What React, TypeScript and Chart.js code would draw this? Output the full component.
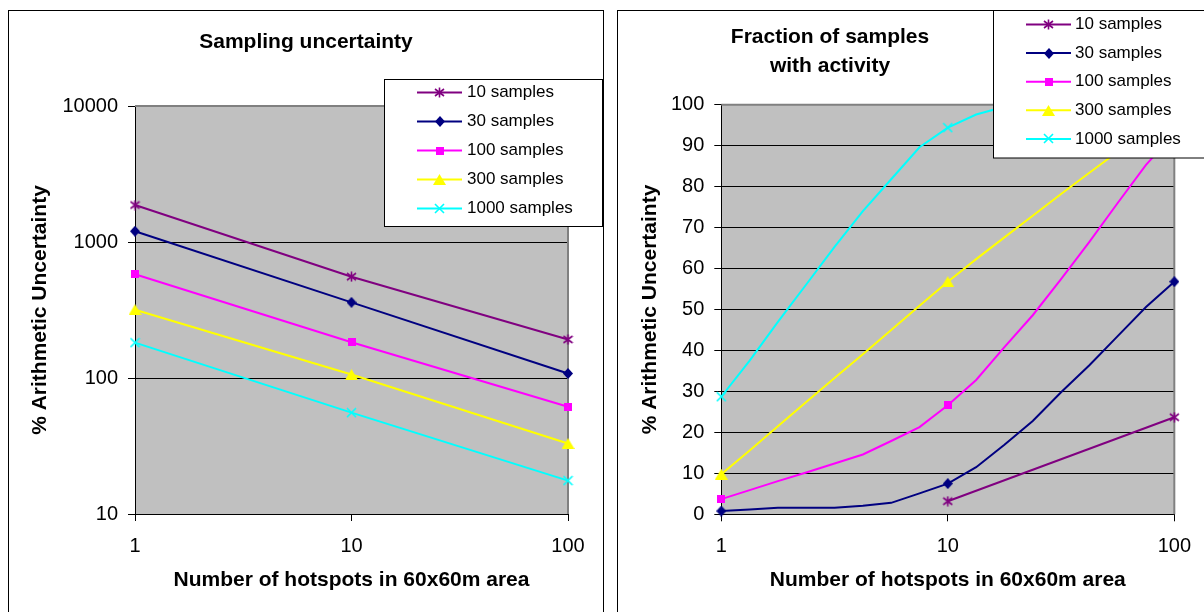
import React, { useEffect, useRef } from 'react';
import { Chart, registerables } from 'chart.js';

Chart.register(...registerables);

const FONT = '"Liberation Sans", Arial, Helvetica, sans-serif';

// ---- shared series info ----
const seriesLabels = ['10 samples', '30 samples', '100 samples', '300 samples', '1000 samples'];
const seriesColors = ['#800080', '#000080', '#FF00FF', '#FFFF00', '#00FFFF'];
const seriesMarkers = ['asterisk', 'diamond', 'square', 'triangle', 'cross'];
const hotspotTicks = [1, 10, 100];

// ---- left chart: Sampling uncertainty ----
const uncX = [1, 10, 100];
const unc10 = [1870, 556, 192];
const unc30 = [1200, 360, 108];
const unc100 = [580, 183, 61.5];
const unc300 = [318, 106, 33];
const unc1000 = [182, 55.6, 17.6];
const uncYTicks = [10, 100, 1000, 10000];

// ---- right chart: Fraction of samples with activity ----
const fracX = [1, 1.334, 1.778, 2.371, 3.162, 4.217, 5.623, 7.499, 10, 13.34, 17.78, 23.71, 31.62, 42.17, 56.23, 74.99, 100];
const frac10 = [null, null, null, null, null, null, null, null, 3.2, null, null, null, null, null, null, null, 23.7];
const frac30 = [0.8, 1.2, 1.6, 1.6, 1.6, 2.1, 2.8, 5.1, 7.5, 11.5, 17, 22.8, 29.8, 36.4, 43.5, 50.6, 56.8];
const frac100 = [3.7, 5.9, 8.1, 10.2, 12.4, 14.6, 17.9, 21.3, 26.6, 32.8, 40.8, 48.6, 57.4, 66.5, 76, 85.3, 93];
const frac300 = [9.8, 15.6, 21.5, 27.4, 33.3, 39.1, 45, 50.9, 56.8, 62.3, 67.6, 72.9, 78.2, 83.4, 88.5, 93.5, 98.3];
const frac1000 = [28.7, 37.5, 47, 56.1, 65.3, 74, 81.8, 89.6, 94.4, 97.6, 99.5, 100, 100, 100, 100, 100, 100];
const fracMarkerAt = [1, 10, 100];

function makeMarker(kind: string, color: string): HTMLCanvasElement {
  const c = document.createElement('canvas');
  const sizes: Record<string, number[]> = {
    asterisk: [11, 11], diamond: [10, 11], square: [8, 8], triangle: [13, 11], cross: [11, 11],
  };
  const [w, h] = sizes[kind];
  c.width = w;
  c.height = h;
  const ctx = c.getContext('2d')!;
  ctx.strokeStyle = color;
  ctx.fillStyle = color;
  ctx.lineWidth = 1.6;
  ctx.beginPath();
  if (kind === 'asterisk') {
    ctx.moveTo(5.5, 0.5); ctx.lineTo(5.5, 10.5);
    ctx.moveTo(1, 2); ctx.lineTo(10, 9);
    ctx.moveTo(10, 2); ctx.lineTo(1, 9);
    ctx.stroke();
  } else if (kind === 'diamond') {
    ctx.moveTo(5, 0); ctx.lineTo(10, 5.5); ctx.lineTo(5, 11); ctx.lineTo(0, 5.5); ctx.closePath();
    ctx.fill();
  } else if (kind === 'square') {
    ctx.fillRect(0, 0, 8, 8);
  } else if (kind === 'triangle') {
    ctx.moveTo(6.5, 0); ctx.lineTo(13, 11); ctx.lineTo(0, 11); ctx.closePath();
    ctx.fill();
  } else {
    ctx.moveTo(1, 1); ctx.lineTo(10, 10);
    ctx.moveTo(10, 1); ctx.lineTo(1, 10);
    ctx.stroke();
  }
  return c;
}

type Decor = {
  frame: number[];
  title: string[];
  titleX: number;
  titleY: number;
  titleStep: number;
  legendBox: number[];
  lx1: number;
  lx2: number;
  tx: number;
  ly0: number;
  ldy: number;
};

function decorPlugin(d: Decor) {
  return {
    id: 'decor',
    beforeDraw(chart: any) {
      const { ctx, chartArea: a } = chart;
      ctx.save();
      ctx.fillStyle = '#fff';
      ctx.fillRect(0, 0, chart.width, chart.height);
      ctx.strokeStyle = '#000';
      ctx.lineWidth = 1;
      ctx.strokeRect(d.frame[0], d.frame[1], d.frame[2], d.frame[3]);
      ctx.fillStyle = '#C0C0C0';
      ctx.fillRect(a.left, a.top, a.right - a.left, a.bottom - a.top);
      ctx.fillStyle = '#000';
      ctx.font = `bold 21px ${FONT}`;
      ctx.textAlign = 'center';
      ctx.textBaseline = 'middle';
      d.title.forEach((t, i) => ctx.fillText(t, d.titleX, d.titleY + i * d.titleStep));
      ctx.restore();
    },
    beforeDatasetsDraw(chart: any) {
      const { ctx, chartArea: a } = chart;
      ctx.save();
      ctx.strokeStyle = '#808080';
      ctx.lineWidth = 2;
      ctx.beginPath();
      ctx.moveTo(a.left, a.top);
      ctx.lineTo(a.right, a.top);
      ctx.lineTo(a.right, a.bottom);
      ctx.stroke();
      ctx.restore();
    },
    afterDraw(chart: any) {
      const { ctx } = chart;
      const [bx, by, bw, bh] = d.legendBox;
      ctx.save();
      ctx.fillStyle = '#fff';
      ctx.fillRect(bx, by, bw, bh);
      ctx.strokeStyle = '#000';
      ctx.lineWidth = 1;
      ctx.strokeRect(bx, by, bw, bh);
      ctx.font = `17px ${FONT}`;
      ctx.textAlign = 'left';
      ctx.textBaseline = 'middle';
      chart.data.datasets.forEach((ds: any, i: number) => {
        const y = d.ly0 + i * d.ldy;
        ctx.strokeStyle = ds.borderColor;
        ctx.lineWidth = 2;
        ctx.beginPath();
        ctx.moveTo(d.lx1, y);
        ctx.lineTo(d.lx2, y);
        ctx.stroke();
        const img = ds.pointStyle as HTMLCanvasElement;
        const mx = (d.lx1 + d.lx2) / 2;
        ctx.drawImage(img, Math.round(mx - img.width / 2), Math.round(y - img.height / 2));
        ctx.fillStyle = '#000';
        ctx.fillText(ds.label, d.tx, y);
      });
      ctx.restore();
    },
  };
}

function xScale(height: number) {
  return {
    type: 'logarithmic',
    min: 1,
    max: 100,
    afterBuildTicks: (s: any) => { s.ticks = hotspotTicks.map((v) => ({ value: v })); },
    afterFit: (s: any) => { s.height = height; },
    grid: { drawOnChartArea: false, drawTicks: true, tickLength: 7, color: '#000', lineWidth: 1 },
    border: { display: true, color: '#000', width: 1 },
    ticks: {
      autoSkip: false, maxRotation: 0, minRotation: 0, padding: 13, color: '#000',
      font: { family: FONT, size: 20 },
      callback: (v: any) => String(v),
    },
    title: {
      display: true, text: 'Number of hotspots in 60x60m area', color: '#000',
      font: { family: FONT, size: 21, weight: 'bold' }, padding: { top: 0, bottom: 19 },
    },
  };
}

function yTitle() {
  return {
    display: true, text: '% Arithmetic Uncertainty', color: '#000',
    font: { family: FONT, size: 21, weight: 'bold' }, padding: { top: 13, bottom: 0 },
  };
}

const yGrid = { color: '#000', lineWidth: 1, tickLength: 7, drawTicks: true };
const yTicks = { color: '#000', padding: 10, font: { family: FONT, size: 20 }, autoSkip: false, callback: (v: any) => String(v) };

export default function App() {
  const leftRef = useRef<HTMLCanvasElement>(null);
  const rightRef = useRef<HTMLCanvasElement>(null);

  useEffect(() => {
    const markers = seriesMarkers.map((k, i) => makeMarker(k, seriesColors[i]));

    const leftSeries = [unc10, unc30, unc100, unc300, unc1000];
    const left = new Chart(leftRef.current!, {
      type: 'line',
      data: {
        datasets: leftSeries.map((ys, i) => ({
          label: seriesLabels[i],
          data: ys.map((y, j) => ({ x: uncX[j], y })),
          borderColor: seriesColors[i],
          backgroundColor: seriesColors[i],
          borderWidth: 2,
          pointStyle: markers[i],
          pointRadius: 5,
          pointHoverRadius: 5,
          tension: 0,
          clip: 12,
          order: 4 - i,
        })),
      },
      options: {
        responsive: false,
        animation: false,
        devicePixelRatio: 1,
        events: [],
        layout: { padding: { left: 15, right: 42, top: 106, bottom: 0 } },
        plugins: { legend: { display: false }, title: { display: false }, tooltip: { enabled: false } },
        scales: {
          x: xScale(98),
          y: {
            type: 'logarithmic',
            min: 10,
            max: 10000,
            afterBuildTicks: (s: any) => { s.ticks = uncYTicks.map((v) => ({ value: v })); },
            afterFit: (s: any) => { s.width = 120; },
            grid: yGrid,
            border: { display: true, color: '#000', width: 1 },
            ticks: yTicks,
            title: yTitle(),
          },
        },
      } as any,
      plugins: [decorPlugin({
        frame: [8.5, 10.5, 595, 700],
        title: ['Sampling uncertainty'],
        titleX: 306, titleY: 42, titleStep: 29,
        legendBox: [384.5, 79.5, 218, 147],
        lx1: 417, lx2: 462, tx: 467, ly0: 92.5, ldy: 29,
      })],
    } as any);

    const rightSeries = [frac10, frac30, frac100, frac300, frac1000];
    const right = new Chart(rightRef.current!, {
      type: 'line',
      data: {
        datasets: rightSeries.map((ys, i) => ({
          label: seriesLabels[i],
          data: ys.map((y, j) => ({ x: fracX[j], y })),
          borderColor: seriesColors[i],
          backgroundColor: seriesColors[i],
          borderWidth: 2,
          pointStyle: markers[i],
          pointRadius: (c: any) => (fracMarkerAt.includes(fracX[c.dataIndex]) ? 5 : 0),
          pointHoverRadius: 0,
          tension: 0,
          spanGaps: true,
          clip: 12,
          order: 4 - i,
        })),
      },
      options: {
        responsive: false,
        animation: false,
        devicePixelRatio: 1,
        events: [],
        layout: { padding: { left: 15, right: 25.3, top: 104.7, bottom: 0 } },
        plugins: { legend: { display: false }, title: { display: false }, tooltip: { enabled: false } },
        scales: {
          x: xScale(97.7),
          y: {
            type: 'linear',
            min: 0,
            max: 100,
            afterFit: (s: any) => { s.width = 96.3; },
            grid: yGrid,
            border: { display: true, color: '#000', width: 1 },
            ticks: { ...yTicks, stepSize: 10 },
            title: yTitle(),
          },
        },
      } as any,
      plugins: [decorPlugin({
        frame: [7.5, 10.5, 700, 700],
        title: ['Fraction of samples', 'with activity'],
        titleX: 220, titleY: 37, titleStep: 29,
        legendBox: [383.5, 10.5, 230, 147.5],
        lx1: 416, lx2: 461, tx: 465, ly0: 24.5, ldy: 28.6,
      })],
    } as any);

    return () => {
      left.destroy();
      right.destroy();
    };
  }, []);

  return (
    <div style={{ position: 'absolute', left: 0, top: 0, width: 1204, height: 612, background: '#fff', overflow: 'hidden' }}>
      <canvas ref={leftRef} width={610} height={612} style={{ position: 'absolute', left: 0, top: 0 }} />
      <canvas ref={rightRef} width={594} height={612} style={{ position: 'absolute', left: 610, top: 0 }} />
    </div>
  );
}
